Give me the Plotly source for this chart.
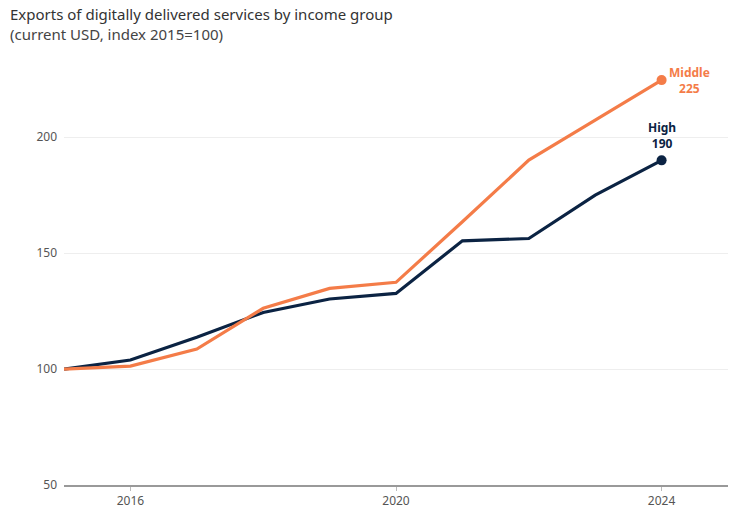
import plotly.graph_objects as go

years = [2015, 2016, 2017, 2018, 2019, 2020, 2021, 2022, 2023, 2024]
high = [100, 103.9, 113.7, 124.4, 130.2, 132.6, 155.3, 156.3, 175.0, 190.0]
middle = [100, 101.3, 108.6, 126.2, 134.8, 137.4, 163.5, 190.1, 207.3, 224.6]
y_ticks = [50, 100, 150, 200]
x_ticks = [2016, 2020, 2024]

NAVY = "#0b2343"
ORANGE = "#f47c48"
FONT = "Noto Sans"

fig = go.Figure()
for name, vals, col in [("High", high, NAVY), ("Middle", middle, ORANGE)]:
    sizes = [0] * (len(vals) - 1) + [10]
    fig.add_trace(go.Scatter(
        x=years, y=vals, mode="lines+markers", name=name,
        line=dict(color=col, width=3.2),
        marker=dict(color=col, size=sizes, line=dict(width=0), opacity=1),
        hoverinfo="x+y", showlegend=False,
    ))

fig.add_annotation(x=years[-1], y=middle[-1], text="<b>Middle<br>225</b>",
                   showarrow=False, xanchor="center", yanchor="middle",
                   xshift=28, yshift=0, font=dict(color=ORANGE, size=12, family=FONT),
                   align="center")
fig.add_annotation(x=years[-1], y=high[-1], text="<b>High<br>190</b>",
                   showarrow=False, xanchor="center", yanchor="bottom",
                   yshift=6, font=dict(color=NAVY, size=12, family=FONT),
                   align="center")

fig.add_annotation(text="Exports of digitally delivered services by income group",
                   xref="paper", yref="paper", x=0, y=1, xanchor="left", yanchor="middle",
                   xshift=-56, yshift=42, showarrow=False,
                   font=dict(size=15, color="#333333", family=FONT))
fig.add_annotation(text="(current USD, index 2015=100)",
                   xref="paper", yref="paper", x=0, y=1, xanchor="left", yanchor="middle",
                   xshift=-56, yshift=22, showarrow=False,
                   font=dict(size=15, color="#444444", family=FONT))

fig.update_layout(
    width=733, height=516,
    margin=dict(l=64, r=5, t=56, b=31, autoexpand=False),
    paper_bgcolor="white", plot_bgcolor="white",
    font=dict(family=FONT, color="#555555", size=12),
    xaxis=dict(range=[2015, 2025], tickvals=x_ticks, ticktext=[str(v) for v in x_ticks],
               showgrid=False, showline=True, linecolor="#999999", linewidth=1.5,
               ticks="outside", ticklen=4, tickcolor="#bbbbbb", zeroline=False,
               tickfont=dict(size=12, color="#555555")),
    yaxis=dict(range=[50, 235], tickvals=y_ticks, showgrid=True, gridcolor="#eeeeee",
               gridwidth=1, zeroline=False, showline=False, ticks="",
               ticklabelstandoff=6, tickfont=dict(size=12, color="#555555")),
)

fig.write_html("out.html", config={"displayModeBar": False},
               post_script="document.body.style.margin='0';document.body.style.overflow='hidden';")
